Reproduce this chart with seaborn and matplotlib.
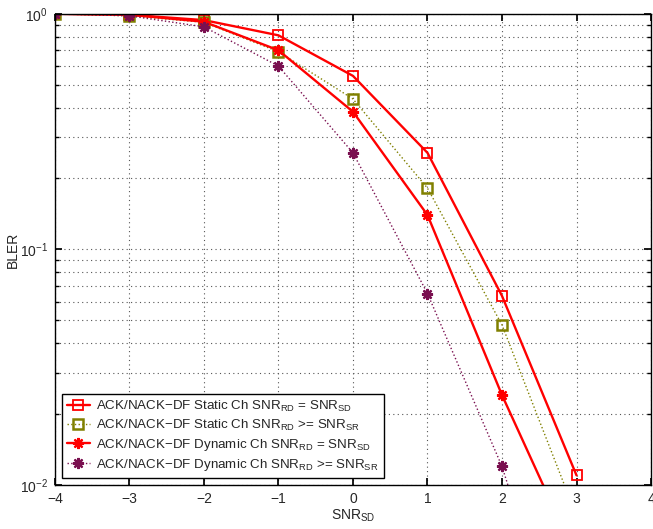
import numpy as np
import pandas as pd
import matplotlib
matplotlib.use("Agg")
import matplotlib.pyplot as plt
import seaborn as sns

# ── data ──────────────────────────────────────────────────────────────────
snr_sd = [-4, -3, -2, -1, 0, 1, 2, 3]
bler_static_eq = [1.0, 0.99, 0.94, 0.81, 0.545, 0.257, 0.0635, 0.011]
bler_static_ge = [1.0, 0.98, 0.92, 0.69, 0.435, 0.182, 0.0478, 0.0074]
bler_dyn_eq = [1.0, 0.99, 0.925, 0.70, 0.384, 0.140, 0.0241, 0.0049]
bler_dyn_ge = [1.0, 0.98, 0.88, 0.60, 0.257, 0.065, 0.012, 0.0012]

labels = [
    r"ACK/NACK$-$DF Static Ch SNR$_{\rm RD}$ = SNR$_{\rm SD}$",
    r"ACK/NACK$-$DF Static Ch SNR$_{\rm RD}$ >= SNR$_{\rm SR}$",
    r"ACK/NACK$-$DF Dynamic Ch SNR$_{\rm RD}$ = SNR$_{\rm SD}$",
    r"ACK/NACK$-$DF Dynamic Ch SNR$_{\rm RD}$ >= SNR$_{\rm SR}$",
]

sns.set_theme(style="ticks")
plt.rcParams["font.family"] = ["Liberation Sans", "DejaVu Sans"]
plt.rcParams["mathtext.fontset"] = "custom"
plt.rcParams["mathtext.rm"] = "Liberation Sans"
plt.rcParams["mathtext.it"] = "Liberation Sans:italic"

fig = plt.figure(figsize=(6.53, 5.29), dpi=100)
ax = fig.add_axes([0.084, 0.083, 0.913, 0.891])

asterisk = (8, 2, 0)
styles = [
    dict(color="#ff0000", ls="-", lw=1.7, marker="s", ms=6.5, mfc="none", mew=1.3),
    dict(color="#808000", ls=":", lw=1.0, marker="s", ms=6.5, mfc="none", mew=1.8),
    dict(color="#ff0000", ls="-", lw=1.7, marker=asterisk, ms=8, mew=1.6),
    dict(color="#7a1050", ls=":", lw=1.0, marker=asterisk, ms=8, mew=1.6),
]
series = [bler_static_eq, bler_static_ge, bler_dyn_eq, bler_dyn_ge]

for y, lab, st in zip(series, labels, styles):
    sns.lineplot(x=snr_sd, y=y, ax=ax, label=lab, color=st["color"],
                 linestyle=st["ls"], linewidth=st["lw"], marker=st["marker"],
                 markersize=st["ms"], markerfacecolor=st.get("mfc", st["color"]),
                 markeredgecolor=st["color"], markeredgewidth=st["mew"],
                 sort=False, estimator=None)

ax.set_yscale("log")
ax.set_xlim(-4, 4)
ax.set_ylim(1e-2, 1)
ax.set_xticks(range(-4, 5))
ax.set_xticklabels([str(v).replace("-", "\u2212") for v in range(-4, 5)])
ax.grid(True, which="major", axis="both", ls=(0, (1, 3)), color="#555555", lw=0.8)
ax.grid(True, which="minor", axis="y", ls=(0, (1, 3)), color="#555555", lw=0.8)
ax.tick_params(which="both", direction="in", top=True, right=True, labelsize=10,
               color="black", pad=5)
ax.tick_params(which="major", length=5)
ax.tick_params(which="minor", length=3)
for sp in ax.spines.values():
    sp.set_color("black")
    sp.set_linewidth(1.0)

ax.set_xlabel(r"SNR$_{\rm SD}$", fontsize=10, labelpad=1)
ax.set_ylabel("BLER", fontsize=10, labelpad=0)

leg = ax.legend(loc="lower left", fontsize=9.6, frameon=True, fancybox=False,
                edgecolor="black", framealpha=1, borderpad=0.4, labelspacing=0.3,
                handlelength=1.7, handletextpad=0.5, borderaxespad=0.5)
leg.get_frame().set_linewidth(1.0)

fig.savefig("out.png", dpi=100)
